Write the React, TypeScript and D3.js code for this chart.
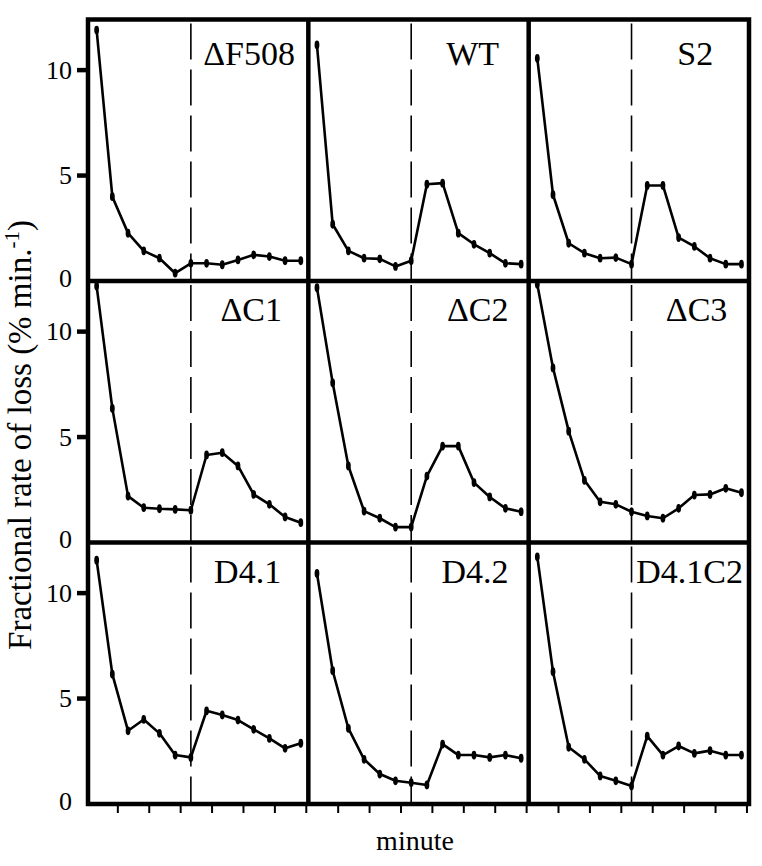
import React from "react";
import * as d3 from "d3";

// ---- data ----
const panelNames = ["ΔF508", "WT", "S2", "ΔC1", "ΔC2", "ΔC3", "D4.1", "D4.2", "D4.1C2"];
const minutes = [0, 1, 2, 3, 4, 5, 6, 7, 8, 9, 10, 11, 12, 13];
const stimulusMinute = 6;
const xTickMinutes = [1.35, 3.35, 5.35, 7.35, 9.35, 11.35, 13.35];
const yTickValues = [0, 5, 10];

const seriesF508 = [11.9, 4.0, 2.27, 1.43, 1.08, 0.37, 0.84, 0.84, 0.77, 1.0, 1.24, 1.16, 0.96, 0.96];
const seriesWT = [11.19, 2.69, 1.43, 1.08, 1.05, 0.69, 0.96, 4.59, 4.64, 2.27, 1.74, 1.32, 0.84, 0.8];
const seriesS2 = [10.56, 4.09, 1.79, 1.32, 1.08, 1.11, 0.8, 4.53, 4.53, 2.06, 1.64, 1.08, 0.8, 0.8];
const seriesC1 = [12.16, 6.36, 2.2, 1.65, 1.6, 1.57, 1.53, 4.15, 4.26, 3.63, 2.28, 1.81, 1.21, 0.94];
const seriesC2 = [12.08, 7.57, 3.63, 1.49, 1.15, 0.73, 0.73, 3.15, 4.57, 4.57, 2.84, 2.16, 1.62, 1.46];
const seriesC3 = [12.24, 8.28, 5.28, 2.95, 1.93, 1.81, 1.46, 1.26, 1.15, 1.62, 2.25, 2.28, 2.57, 2.36];
const seriesD41 = [11.56, 6.16, 3.47, 4.01, 3.35, 2.32, 2.21, 4.42, 4.22, 3.98, 3.54, 3.11, 2.64, 2.88];
const seriesD42 = [10.93, 6.32, 3.59, 2.12, 1.42, 1.1, 1.01, 0.9, 2.84, 2.32, 2.32, 2.21, 2.32, 2.17];
const seriesD41C2 = [11.72, 6.27, 2.69, 2.12, 1.33, 1.1, 0.85, 3.22, 2.32, 2.75, 2.4, 2.53, 2.32, 2.32];
const allSeries = [seriesF508, seriesWT, seriesS2, seriesC1, seriesC2, seriesC3, seriesD41, seriesD42, seriesD41C2];

// label anchors (in data units: minute, rate)
const labelEndMinute = [12.63, 11.6, 11.2, 11.8, 12.2, 12.1, 11.75, 12.2, 13.1];
const labelBaseRate = [10.24, 10.24, 10.24, 10.5, 10.5, 10.5, 10.5, 10.5, 10.5];

const FONT = "'Liberation Serif', 'Times New Roman', Times, serif";

export default function App() {
  const W = 762, H = 866;
  const cols = d3.scaleBand<number>().domain([0, 1, 2]).range([88, 749]).padding(0);
  const rows = d3.scaleBand<number>().domain([0, 1, 2]).range([19.5, 804]).padding(0);
  const pw = cols.bandwidth();
  const ph = rows.bandwidth();
  const x = d3.scaleLinear().domain([-0.55, 13.48]).range([0, pw]);
  const y = d3.scaleLinear().domain([0, 12.4]).range([ph, 0]);
  const line = d3.line<number>().x((_, i) => x(minutes[i])).y((d) => y(d));

  const left = cols(0)!;
  const right = cols(2)! + pw;
  const top = rows(0)!;
  const bottom = rows(2)! + ph;
  const frameW = 4.5;
  const ts = { fontFamily: FONT };

  return (
    <svg width={W} height={H} style={{ position: "absolute", left: 0, top: 0, background: "#fff", fontFamily: FONT }}>
      <rect x={0} y={0} width={W} height={H} fill="#fff" />
      {panelNames.map((name, k) => {
        const c = k % 3, r = Math.floor(k / 3);
        const px = cols(c)!, py = rows(r)!;
        const data = allSeries[k];
        return (
          <g key={name} transform={`translate(${px},${py})`}>
            <line x1={x(stimulusMinute)} x2={x(stimulusMinute)} y1={4} y2={ph}
              stroke="#000" strokeWidth={1.6} strokeDasharray="36,10" />
            <path d={line(data) || ""} fill="none" stroke="#000" strokeWidth={2.6} strokeLinejoin="round" />
            {data.map((v, i) => (
              <ellipse key={i} cx={x(minutes[i])} cy={y(v)} rx={2.4} ry={4.4} fill="#000" />
            ))}
            <text x={x(labelEndMinute[k])} y={y(labelBaseRate[k])} textAnchor="end" fontSize={34} fill="#000" style={ts}>{name}</text>
          </g>
        );
      })}
      <rect x={left} y={top} width={right - left} height={bottom - top} fill="none" stroke="#000" strokeWidth={frameW} />
      {[1, 2].map((c) => (
        <line key={"vc" + c} x1={cols(c)!} x2={cols(c)!} y1={top} y2={bottom} stroke="#000" strokeWidth={frameW} />
      ))}
      {[1, 2].map((r) => (
        <line key={"hr" + r} x1={left} x2={right} y1={rows(r)!} y2={rows(r)!} stroke="#000" strokeWidth={frameW} />
      ))}
      {[0, 1, 2].map((r) => (
        <g key={"ya" + r} transform={`translate(${left},${rows(r)!})`}>
          {yTickValues.map((v) => (
            <g key={v}>
              {v > 0 && <line x1={-11} x2={0} y1={y(v)} y2={y(v)} stroke="#000" strokeWidth={4.5} />}
              <text x={-16} y={v === 0 ? y(v) - 3 : y(v)} textAnchor="end" dominantBaseline="central" fontSize={26} fill="#000" style={ts}>{v}</text>
            </g>
          ))}
        </g>
      ))}
      {[0, 1, 2].map((c) => (
        <g key={"xa" + c} transform={`translate(${cols(c)!},${bottom})`}>
          {xTickMinutes.map((t) => (
            <line key={t} x1={x(t)} x2={x(t)} y1={0} y2={9} stroke="#000" strokeWidth={2} />
          ))}
        </g>
      ))}
      <text x={415} y={850} textAnchor="middle" fontSize={28} fill="#000" style={ts}>minute</text>
      <text transform={`translate(31,435) rotate(-90)`} textAnchor="middle" fontSize={33} fill="#000" style={ts}>
        Fractional rate of loss (% min.<tspan fontSize={21} dy={-12}>-1</tspan><tspan dy={12}>)</tspan>
      </text>
    </svg>
  );
}
